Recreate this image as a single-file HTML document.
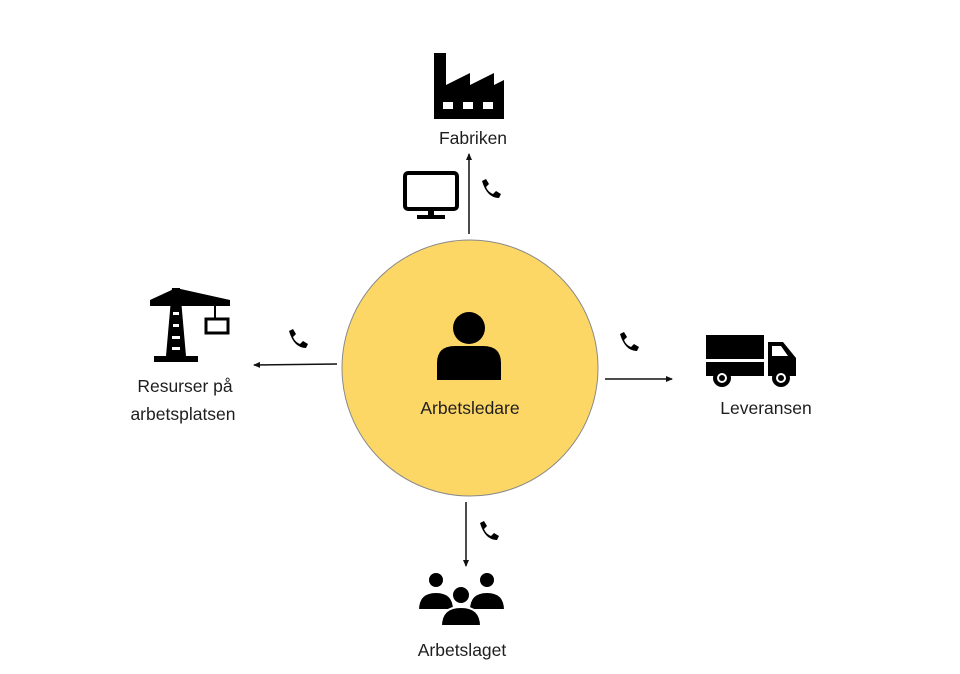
<!DOCTYPE html>
<html><head><meta charset="utf-8"><style>
html,body{margin:0;padding:0;background:#fff}
svg{display:block}
text{font-family:"Liberation Sans",sans-serif;font-size:17.5px;fill:#1e1e1e}
</style></head><body>
<svg width="960" height="674" viewBox="0 0 960 674" xmlns="http://www.w3.org/2000/svg">
<defs>
<marker id="ah" markerWidth="8" markerHeight="8" refX="6" refY="4" orient="auto" markerUnits="userSpaceOnUse">
<path d="M0,1 L7,4 L0,7 z" fill="#111"/></marker>
<g id="ph"><path d="M3,3 L7,1 L10,6 L7,9 Q9,14 14,16 L17,13 L22,16 L20,20 Q8,20 3,3 z" fill="#000"/></g>
</defs>
<circle cx="470" cy="368" r="128" fill="#FDD766" stroke="#8a8a8a" stroke-width="1"/>
<circle cx="469" cy="328" r="16" fill="#000"/>
<path d="M437,380 L437,363 Q437,346 455,346 L483,346 Q501,346 501,363 L501,380 z" fill="#000"/>
<text x="470" y="414" text-anchor="middle">Arbetsledare</text>

<path d="M434,119 L434,53 L446,53 L446,85 L470,73 L470,85 L494,73 L494,85 L504,80 L504,119 z" fill="#000"/>
<rect x="443" y="102" width="10" height="7" fill="#fff"/>
<rect x="463" y="102" width="10" height="7" fill="#fff"/>
<rect x="483" y="102" width="10" height="7" fill="#fff"/>
<text x="473" y="144" text-anchor="middle">Fabriken</text>
<line x1="469" y1="234" x2="469" y2="154" stroke="#111" stroke-width="1.5" marker-end="url(#ah)"/>
<rect x="405" y="173" width="52" height="36" rx="3" fill="none" stroke="#000" stroke-width="4"/>
<rect x="428" y="210" width="6" height="6" fill="#000"/>
<rect x="417" y="215" width="28" height="4" fill="#000"/>
<use href="#ph" x="479" y="178"/>

<line x1="337" y1="364" x2="254" y2="365" stroke="#111" stroke-width="1.5" marker-end="url(#ah)"/>
<use href="#ph" x="286" y="328"/>
<g fill="#000">
<path d="M172,288 L180,288 L186,356 L166,356 z"/>
<path d="M150,300 L176,288 L230,300 L230,306 L150,306 z"/>
<rect x="154" y="356" width="44" height="6"/>
<rect x="214" y="305" width="2" height="14"/>
</g>
<rect x="206" y="319" width="22" height="14" fill="#fff" stroke="#000" stroke-width="3"/>
<g fill="#fff"><rect x="173" y="312" width="6" height="3"/><rect x="173" y="324" width="6" height="3"/><rect x="172" y="336" width="8" height="3"/><rect x="172" y="347" width="8" height="3"/></g>
<text x="185" y="392" text-anchor="middle">Resurser på</text>
<text x="183" y="420" text-anchor="middle">arbetsplatsen</text>

<line x1="605" y1="379" x2="672" y2="379" stroke="#111" stroke-width="1.5" marker-end="url(#ah)"/>
<use href="#ph" x="617" y="331"/>
<g fill="#000">
<rect x="706" y="335" width="58" height="24"/>
<rect x="706" y="362" width="58" height="14"/>
<path d="M768,342 L783,342 L796,358 L796,376 L768,376 z"/>
<circle cx="722" cy="378" r="9"/>
<circle cx="781" cy="378" r="9"/>
</g>
<path d="M772,346 L781,346 L788,356 L772,356 z" fill="#fff"/>
<circle cx="722" cy="378" r="5" fill="#fff"/><circle cx="722" cy="378" r="3" fill="#000"/>
<circle cx="781" cy="378" r="5" fill="#fff"/><circle cx="781" cy="378" r="3" fill="#000"/>
<text x="766" y="414" text-anchor="middle">Leveransen</text>

<line x1="466" y1="502" x2="466" y2="566" stroke="#111" stroke-width="1.5" marker-end="url(#ah)"/>
<use href="#ph" x="477" y="520"/>
<g fill="#000" stroke="#fff" stroke-width="2">
<circle cx="436" cy="580" r="8"/>
<path d="M418,610 Q418,592 436,592 Q454,592 454,610 z"/>
<circle cx="487" cy="580" r="8"/>
<path d="M469,610 Q469,592 487,592 Q505,592 505,610 z"/>
<circle cx="461" cy="595" r="9"/>
<path d="M441,626 Q441,607 461,607 Q481,607 481,626 z"/>
</g>
<text x="462" y="656" text-anchor="middle">Arbetslaget</text>
</svg>
</body></html>
